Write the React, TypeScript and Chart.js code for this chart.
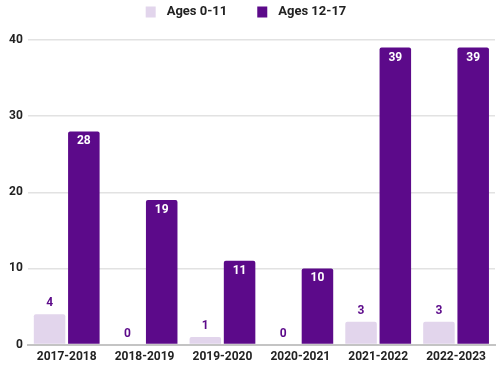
import React, { useEffect, useRef } from "react";
import { Chart, registerables } from "chart.js";

Chart.register(...registerables);

const categories = ["2017-2018", "2018-2019", "2019-2020", "2020-2021", "2021-2022", "2022-2023"];
const ages0to11 = [4, 0, 1, 0, 3, 3];
const ages12to17 = [28, 19, 11, 10, 39, 39];
const seriesNames = ["Ages 0-11", "Ages 12-17"];
const yTicks = [0, 10, 20, 30, 40];

const LIGHT = "#e2d5ec";
const DARK = "#5c0a8a";
const FONT = "Roboto, 'DejaVu Sans', sans-serif";

const labelPlugin = {
  id: "barLabels",
  afterDatasetsDraw(chart: any) {
    const ctx = chart.ctx;
    ctx.save();
    ctx.font = `bold 12px ${FONT}`;
    ctx.textAlign = "center";
    ctx.textBaseline = "middle";
    chart.data.datasets.forEach((ds: any, di: number) => {
      const meta = chart.getDatasetMeta(di);
      meta.data.forEach((bar: any, i: number) => {
        const v = ds.data[i];
        if (di === 0) {
          ctx.fillStyle = DARK;
          ctx.fillText(String(v), bar.x, bar.y - 11);
        } else {
          ctx.fillStyle = "#ffffff";
          ctx.fillText(String(v), bar.x, bar.y + 10);
        }
      });
    });
    ctx.restore();
  },
};

// Legend drawn at top, centred, with wide spacing between items
const legendPlugin = {
  id: "topLegend",
  afterDraw(chart: any) {
    const ctx = chart.ctx;
    ctx.save();
    ctx.font = `bold 13px ${FONT}`;
    ctx.textBaseline = "middle";
    ctx.textAlign = "left";
    const box = 10;
    const gapText = 11;
    const gapItem = 30;
    const items = chart.data.datasets.map((ds: any) => ({
      text: ds.label,
      color: ds.backgroundColor,
      w: ctx.measureText(ds.label).width,
    }));
    const total = items.reduce((s: number, it: any) => s + box + gapText + it.w, 0) + gapItem * (items.length - 1);
    let x = 246 - total / 2;
    const y = 12;
    items.forEach((it: any) => {
      ctx.fillStyle = it.color;
      ctx.fillRect(x, y - 5.5, box, 11);
      x += box + gapText;
      ctx.fillStyle = "#222";
      ctx.fillText(it.text, x, y);
      x += it.w + gapItem;
    });
    ctx.restore();
  },
};

export default function App() {
  const ref = useRef<HTMLCanvasElement>(null);
  useEffect(() => {
    document.body.style.margin = "0";
    const chart = new Chart(ref.current!, {
      type: "bar",
      data: {
        labels: categories,
        datasets: [
          {
            label: seriesNames[0],
            data: ages0to11,
            backgroundColor: LIGHT,
            borderRadius: 2,
            borderSkipped: "bottom",
            categoryPercentage: 0.88,
            barPercentage: 0.92,
          },
          {
            label: seriesNames[1],
            data: ages12to17,
            backgroundColor: DARK,
            borderRadius: 2,
            borderSkipped: "bottom",
            categoryPercentage: 0.88,
            barPercentage: 0.92,
          },
        ],
      },
      options: {
        animation: false,
        responsive: false,
        maintainAspectRatio: false,
        layout: { padding: { left: 4, right: 5, top: 40, bottom: 2 } },
        plugins: {
          tooltip: { enabled: false },
          legend: { display: false },
        },
        scales: {
          x: {
            grid: { display: false, drawTicks: false },
            border: { color: "#c4c4c4", width: 2 },
            ticks: {
              color: "#222",
              font: { family: FONT, size: 12, weight: "bold" },
              padding: 5,
              maxRotation: 0,
              minRotation: 0,
              autoSkip: false,
            },
          },
          y: {
            min: 0,
            max: 40,
            afterBuildTicks: (axis: any) => {
              axis.ticks = yTicks.map((v) => ({ value: v }));
            },
            grid: { color: "#e2e2e2", lineWidth: 1.5, drawTicks: false },
            border: { display: false },
            ticks: { color: "#222", font: { family: FONT, size: 12, weight: "bold" }, padding: 5 },
          },
        },
      },
      plugins: [labelPlugin, legendPlugin],
    } as any);
    return () => chart.destroy();
  }, []);
  return (
    <div style={{ position: "absolute", left: 0, top: 0, width: 500, height: 371 }}>
      <canvas ref={ref} width={500} height={371} style={{ width: 500, height: 371 }} />
    </div>
  );
}
